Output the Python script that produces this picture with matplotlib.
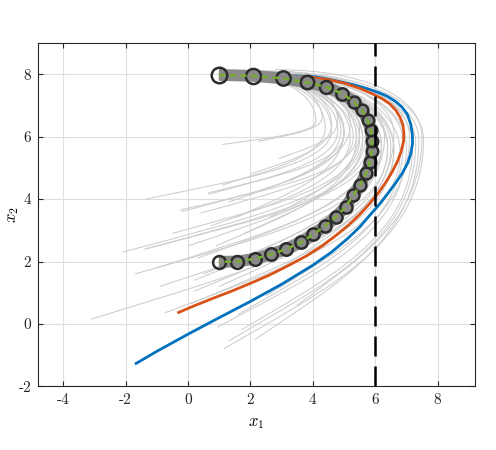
import matplotlib
matplotlib.use("Agg")
import matplotlib.pyplot as plt
from matplotlib.path import Path
from matplotlib.patches import PathPatch
import numpy as np

plt.rcParams["mathtext.fontset"] = "cm"
plt.rcParams["font.family"] = ["cmr10", "DejaVu Serif"]
plt.rcParams["axes.unicode_minus"] = False

# demonstration (circles)
demo_x = [0.99, 2.09, 3.04, 3.80, 4.42, 4.95, 5.31, 5.58, 5.76, 5.87, 5.89, 5.89,
          5.83, 5.71, 5.52, 5.30, 5.05, 4.74, 4.40, 4.02, 3.61, 3.14, 2.65, 2.15,
          1.58, 0.99]
demo_y = [7.98, 7.95, 7.87, 7.74, 7.60, 7.38, 7.12, 6.85, 6.52, 6.20, 5.87, 5.53,
          5.18, 4.83, 4.46, 4.12, 3.75, 3.43, 3.14, 2.87, 2.61, 2.39, 2.23, 2.09,
          2.00, 1.99]

# blue reproduction
blue_x = [-1.70, -1.00, 0.00, 1.00, 2.00, 3.00, 4.00, 4.60, 5.10, 5.50, 5.80, 6.15,
          6.42, 6.68, 6.88, 7.04, 7.14, 7.20, 7.19, 7.14, 7.03, 6.86, 6.64, 6.38,
          6.10, 5.75, 5.36, 4.61, 4.07, 3.00, 2.00, 1.00]
blue_y = [-1.29, -0.88, -0.33, 0.20, 0.72, 1.27, 1.88, 2.30, 2.72, 3.10, 3.45, 3.85,
          4.20, 4.55, 4.85, 5.15, 5.45, 5.80, 6.10, 6.40, 6.72, 6.95, 7.14, 7.30,
          7.42, 7.54, 7.65, 7.82, 7.92, 7.98, 8.00, 8.00]

# orange reproduction
orange_x = [-0.34, 0.20, 0.80, 1.40, 2.00, 2.60, 3.20, 3.80, 4.30, 4.75, 5.15, 5.50,
            5.80, 6.08, 6.33, 6.55, 6.72, 6.84, 6.91, 6.92, 6.89, 6.80, 6.66, 6.47,
            6.22, 5.90, 5.50, 5.00, 4.50, 4.00, 3.00, 2.00, 1.00]
orange_y = [0.35, 0.58, 0.82, 1.05, 1.30, 1.56, 1.86, 2.18, 2.50, 2.84, 3.17, 3.50,
            3.83, 4.17, 4.52, 4.88, 5.22, 5.55, 5.85, 6.12, 6.38, 6.62, 6.85, 7.05,
            7.22, 7.38, 7.55, 7.72, 7.83, 7.90, 7.97, 8.00, 8.00]

# sampled trajectories: start, turning point, end
gray_sx = [-3.10, -2.10, -1.35, -1.70, -1.35, -1.00, -0.75, -0.20, 0.00, 0.10, 0.20, 0.65,
           1.10, 0.75, 0.95, 1.30, 1.15, 0.40, 0.20, 1.10, 2.25, 0.65, -0.25, 2.15,
           -1.40, 0.50, 1.00, 1.60, 2.50, 1.80, 2.60, 3.00, -0.50, 0.30, 1.30, 2.00,
           1.70, 3.50, 2.80, -0.90, 1.40, 0.90, 3.30, 2.90, 1.50]
gray_sy = [0.15, 2.30, 4.00, 1.60, 2.40, 1.80, 0.35, 3.60, 2.50, 0.65, 1.40, 4.15,
           4.45, 3.15, -0.10, -0.55, -0.80, 3.55, 1.05, 5.75, 5.85, 4.20, 3.65, -0.50,
           2.40, 1.60, 1.20, 0.30, 0.90, 2.90, 3.40, 1.80, 2.90, 2.10, 3.90, 4.80,
           -0.20, 0.60, 2.40, 1.20, 1.90, 2.50, 4.60, 5.30, 3.40]
gray_ax = [6.60, 5.60, 4.60, 6.20, 5.80, 6.00, 6.80, 5.00, 5.60, 6.60, 6.20, 4.80,
           4.40, 5.20, 7.00, 7.30, 7.55, 5.30, 6.40, 4.10, 4.30, 5.00, 5.40, 7.40,
           5.90, 6.00, 6.50, 6.90, 7.10, 5.70, 5.50, 6.60, 5.50, 5.90, 4.90, 4.60,
           7.20, 7.50, 6.30, 6.40, 6.10, 5.40, 5.20, 4.80, 5.00]
gray_ay = [5.60, 6.00, 6.20, 5.70, 5.90, 5.80, 5.50, 6.10, 5.90, 5.60, 5.70, 6.20,
           6.30, 6.00, 5.70, 5.80, 5.90, 6.00, 5.70, 6.50, 6.60, 6.10, 6.00, 5.90,
           5.80, 5.80, 5.70, 5.80, 6.00, 6.10, 6.20, 6.10, 5.90, 5.80, 6.20, 6.40,
           5.70, 6.00, 6.00, 5.60, 5.90, 6.00, 6.40, 6.50, 6.20]
gray_ex = [1.60, 1.30, 1.40, 1.50, 1.20, 1.70, 1.80, 1.30, 1.50, 1.90, 1.40, 1.20,
           1.30, 1.60, 2.00, 2.20, 2.40, 1.10, 1.70, 1.30, 1.50, 1.40, 1.60, 2.00,
           1.80, 1.20, 1.50, 1.90, 2.30, 1.40, 1.60, 2.00, 1.70, 1.30, 1.80, 1.50,
           2.60, 2.80, 1.90, 1.60, 1.30, 1.50, 1.70, 1.90, 1.20]
gray_ey = [8.00, 7.95, 8.00, 8.00, 8.00, 7.95, 8.05, 8.00, 8.00, 8.05, 8.00, 8.00,
           8.00, 8.00, 8.05, 8.10, 8.10, 7.95, 8.00, 8.00, 8.00, 7.95, 8.00, 8.10,
           8.00, 8.00, 8.00, 8.05, 8.10, 8.00, 8.00, 8.05, 8.00, 8.00, 8.00, 8.00,
           8.10, 8.15, 8.00, 8.00, 7.95, 8.00, 8.05, 8.05, 7.95]

x_ticks = [-4, -2, 0, 2, 4, 6, 8]
y_ticks = [-2, 0, 2, 4, 6, 8]
bound_x = 6

fig = plt.figure(figsize=(4.96, 4.5), dpi=100)
ax = fig.add_axes([38.2 / 496, 63.7 / 450, 436.8 / 496, 343.2 / 450])

# thin gray sample trajectories
for sx, sy, axp, ayp, ex, ey in zip(gray_sx, gray_sy, gray_ax, gray_ay, gray_ex, gray_ey):
    verts = [(sx, sy),
             (sx + 0.5 * (axp - sx), sy + 0.28 * (ayp - sy)),
             (axp, ayp - 0.5 * (ayp - sy)),
             (axp, ayp),
             (axp, ayp + 0.6 * (ey - ayp)),
             (ex + 0.6 * (axp - ex), ey),
             (ex, ey)]
    codes = [Path.MOVETO] + [Path.CURVE4] * 6
    ax.add_patch(PathPatch(Path(verts, codes), facecolor="none",
                           edgecolor="#cdcdcd", lw=0.75, zorder=2))

ax.plot(blue_x, blue_y, color="#0072BD", lw=2.0, zorder=3,
        solid_joinstyle="round", solid_capstyle="butt")
ax.plot(orange_x, orange_y, color="#D95319", lw=2.0, zorder=3,
        solid_joinstyle="round", solid_capstyle="butt")

# demo band, circles, dashed path
ax.plot(demo_x, demo_y, color="#8a8a8a", lw=8.5, solid_capstyle="butt",
        solid_joinstyle="round", zorder=4)

dx = np.array(demo_x)
dy = np.array(demo_y)
step = np.hypot(np.diff(dx), np.diff(dy))
spacing = np.concatenate([[step[0]], (step[:-1] + step[1:]) / 2, [step[-1]]])
msizes = np.clip(7.0 + 3.8 * spacing, 8.0, 11.2)
for px, py, ms in zip(demo_x, demo_y, msizes):
    ax.plot(px, py, "o", ms=ms, mfc="none", mec="#2b2b2b", mew=1.8, zorder=5)

ax.plot(demo_x, demo_y, color="#77AC30", lw=1.8, dashes=(2.5, 1.8), zorder=6)

ax.axvline(bound_x, color="black", lw=1.8, dashes=(8, 4), zorder=5.5)

ax.set_xlim(-4.8, 9.2)
ax.set_ylim(-2, 9)
ax.set_xticks(x_ticks)
ax.set_yticks(y_ticks)
ax.set_xticklabels([str(t) for t in x_ticks])
ax.set_yticklabels([str(t) for t in y_ticks])
ax.tick_params(direction="in", top=True, right=True, length=3.5, width=0.8,
               color="#262626", labelsize=11, labelcolor="#262626", pad=5)
for s in ax.spines.values():
    s.set_color("#262626")
    s.set_linewidth(0.8)
ax.grid(True, color="#dedede", lw=0.8)
ax.set_axisbelow(True)

ax.set_xlabel("$x_1$", fontsize=12, labelpad=6)
ax.set_ylabel("$x_2$", fontsize=12)
ax.yaxis.set_label_coords(-0.04, 0.5)

fig.savefig("out.png", dpi=100)
